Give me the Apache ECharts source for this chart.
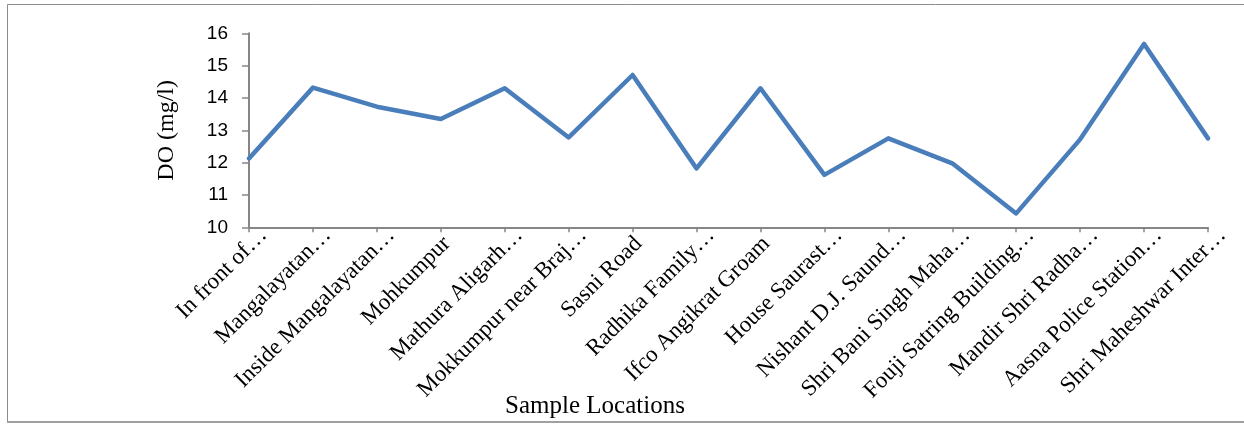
<!DOCTYPE html>
<html>
<head>
<meta charset="utf-8">
<script src="https://cdn.jsdelivr.net/npm/echarts@6/dist/echarts.min.js"></script>
<style>
  html, body { margin: 0; padding: 0; background: #fff; }
  #chart { width: 1244px; height: 426px; }
</style>
</head>
<body>
<div id="chart"></div>
<script>
// Sampling sites (labels as shortened on the axis)
const locations = [
  'In front of…',
  'Mangalayatan…',
  'Inside Mangalayatan…',
  'Mohkumpur',
  'Mathura Aligarh…',
  'Mokkumpur near Braj…',
  'Sasni Road',
  'Radhika Family…',
  'Ifco Angikrat Groam',
  'House Saurast…',
  'Nishant D.J. Saund…',
  'Shri Bani Singh Maha…',
  'Fouji Satring Building…',
  'Mandir Shri Radha…',
  'Aasna Police Station…',
  'Shri Maheshwar Inter…'
];

// Dissolved oxygen at each site, mg/l
const doValues = [12.13, 14.32, 13.73, 13.35, 14.30, 12.78, 14.71, 11.82,
                  14.30, 11.62, 12.75, 11.98, 10.43, 12.72, 15.67, 12.75];

const yMin = 10, yMax = 16, yStep = 1;

const axisGray = '#868686';
const serif = '"Liberation Serif", "Times New Roman", serif';
const sans = '"Liberation Sans", Arial, sans-serif';

const chart = echarts.init(document.getElementById('chart'), null, { renderer: 'canvas' });

chart.setOption({
  animation: false,
  backgroundColor: '#fff',
  title: {
    text: 'Sample Locations',
    left: 595,
    top: 394,
    textAlign: 'center',
    padding: 0,
    textStyle: { fontFamily: serif, fontSize: 25, fontWeight: 'normal', color: '#000' }
  },
  graphic: [{
    type: 'rect',
    silent: true,
    shape: { x: 7.5, y: 4.5, width: 1260, height: 417 },
    style: { fill: null, stroke: '#8c8c8c', lineWidth: 1 }
  }, {
    type: 'line',
    silent: true,
    shape: { x1: 7, y1: 422, x2: 1244, y2: 422 },
    style: { stroke: '#a0a0a0', lineWidth: 2 }
  }],
  grid: { left: 249, right: 36, top: 33.3, bottom: 198.7 },
  xAxis: {
    type: 'category',
    data: locations,
    boundaryGap: false,
    axisLine: { lineStyle: { color: axisGray, width: 2 } },
    axisTick: { show: true, length: 5, interval: 0, lineStyle: { color: axisGray, width: 1.5 } },
    axisLabel: {
      interval: 0,
      rotate: 45,
      margin: -10,
      hideOverlap: false,
      formatter: (name) => name.endsWith('…') ? '{cut|' + name + '}' : '{full|' + name + '}',
      rich: {
        cut: { fontFamily: serif, fontSize: 23, color: '#000', padding: [41, 0, 0, 0] },
        full: { fontFamily: serif, fontSize: 23, color: '#000', padding: [41, 12, 0, 0] }
      }
    },
    splitLine: { show: false }
  },
  yAxis: {
    type: 'value',
    min: yMin,
    max: yMax,
    interval: yStep,
    name: 'DO (mg/l)',
    nameLocation: 'middle',
    nameRotate: 90,
    nameGap: 70,
    nameTextStyle: { fontFamily: serif, fontSize: 24, color: '#000' },
    axisLine: { show: true, lineStyle: { color: axisGray, width: 2 } },
    axisTick: { show: true, length: 7, lineStyle: { color: axisGray, width: 1.5 } },
    axisLabel: { margin: 21, fontFamily: sans, fontSize: 19, color: '#000' },
    splitLine: { show: false }
  },
  series: [{
    type: 'line',
    data: doValues,
    showSymbol: false,
    symbol: 'none',
    lineStyle: { color: '#4a7ebb', width: 4.5, join: 'round', cap: 'round' }
  }]
});
</script>
</body>
</html>
